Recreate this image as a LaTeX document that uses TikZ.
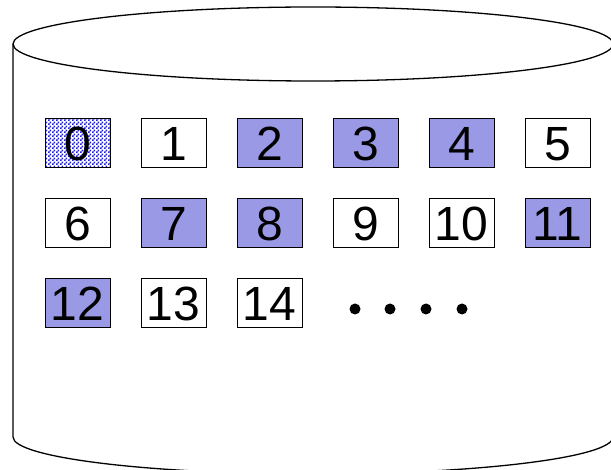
\documentclass[tikz,border=0pt]{standalone}
\usepackage{fontspec}
\setmainfont{Liberation Sans}
\usetikzlibrary{patterns}
\definecolor{cellblue}{RGB}{153,153,230}
\definecolor{dotblue}{RGB}{30,30,215}
\pgfdeclarepatternformonly{finechecker}{\pgfqpoint{0pt}{0pt}}{\pgfqpoint{4pt}{4pt}}{\pgfqpoint{4pt}{4pt}}{
  \pgfpathrectangle{\pgfqpoint{0pt}{0pt}}{\pgfqpoint{2pt}{2pt}}
  \pgfpathrectangle{\pgfqpoint{2pt}{2pt}}{\pgfqpoint{2pt}{2pt}}
  \pgfusepath{fill}}

\begin{document}
\begin{tikzpicture}[x=1pt, y=1pt,
  cell/.style={draw, line width=1pt, minimum width=65pt, minimum height=49pt,
    inner sep=0pt, text depth=0pt, font=\fontsize{48}{48}\selectfont},
  used/.style={cell, fill=cellblue},
  picked/.style={cell, pattern=finechecker, pattern color=dotblue}]
\useasboundingbox (0,0) rectangle (611,469);
\clip (0,0) rectangle (611,469);
% disk
\path[draw, line width=1.3pt] (313,425) ellipse [x radius=300, y radius=37];
\path[draw, line width=1.3pt] (13,425) -- (13,32)
  arc[start angle=180, end angle=360, x radius=300, y radius=37] -- (613,425);
% blocks
\foreach \n/\s in {0/picked,1/cell,2/used,3/used,4/used,5/cell,
                   6/cell,7/used,8/used,9/cell,10/cell,11/used,
                   12/used,13/cell,14/cell}{
  \pgfmathtruncatemacro\col{mod(\n,6)}
  \pgfmathtruncatemacro\row{div(\n,6)}
  \node[\s] (b\n) at (77.5+96*\col, 325.5-80*\row) {\n};
}
% more blocks
\foreach \x in {355,390,426,462} \fill (\x,160) circle (5.5);
\end{tikzpicture}
\end{document}
